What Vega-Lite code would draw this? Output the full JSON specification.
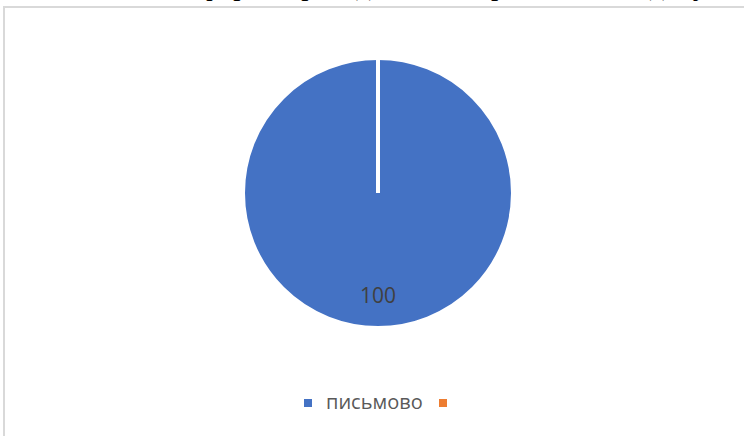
{
  "$schema": "https://vega.github.io/schema/vega-lite/v6.json",
  "width": 744,
  "height": 436,
  "autosize": {"type": "none"},
  "padding": {"left": 4, "top": 7, "right": -4, "bottom": -7},
  "background": "white",
  "config": {"view": {"stroke": null}},
  "title": {
    "text": "форма проведення контролю знань здобувачів",
    "font": "Liberation Serif",
    "fontSize": 29,
    "fontWeight": "normal",
    "color": "#000000",
    "anchor": "start",
    "dx": 197,
    "dy": 18,
    "offset": 0,
    "baseline": "alphabetic"
  },
  "data": {
    "values": [
      {"forma": "письмово", "value": 100, "lbl": "100"},
      {"forma": " ", "value": 0, "lbl": ""}
    ]
  },
  "layer": [
    {
      "data": {"values": [{"frame": 1}]},
      "mark": {"type": "rect", "fill": null, "stroke": "#d9d9d9", "strokeWidth": 2},
      "encoding": {
        "x": {"value": 0},
        "x2": {"value": "width"},
        "y": {"value": 0},
        "y2": {"value": "height"}
      }
    },
    {
      "mark": {"type": "arc", "outerRadius": 135, "stroke": "white", "strokeWidth": 4, "xOffset": 2, "yOffset": -32},
      "encoding": {
        "theta": {"field": "value", "type": "quantitative", "stack": true},
        "color": {
          "field": "forma",
          "type": "nominal",
          "sort": null,
          "scale": {"domain": ["письмово", " "], "range": ["#4472C4", "#ED7D31"]},
          "legend": {
            "orient": "none",
            "legendX": 294,
            "legendY": 386,
            "direction": "horizontal",
            "title": null,
            "padding": 0,
            "symbolType": "square",
            "symbolSize": 64,
            "symbolStrokeWidth": 0,
            "labelFont": "Open Sans",
            "labelFontSize": 20,
            "labelColor": "#595959",
            "labelOffset": 8,
            "columnPadding": 10
          }
        }
      }
    },
    {
      "mark": {"type": "text", "radius": 104, "xOffset": 2, "yOffset": -32, "font": "Open Sans", "fontSize": 21, "color": "#404040"},
      "encoding": {
        "theta": {"field": "value", "type": "quantitative", "stack": true},
        "text": {"field": "lbl"}
      }
    }
  ]
}
